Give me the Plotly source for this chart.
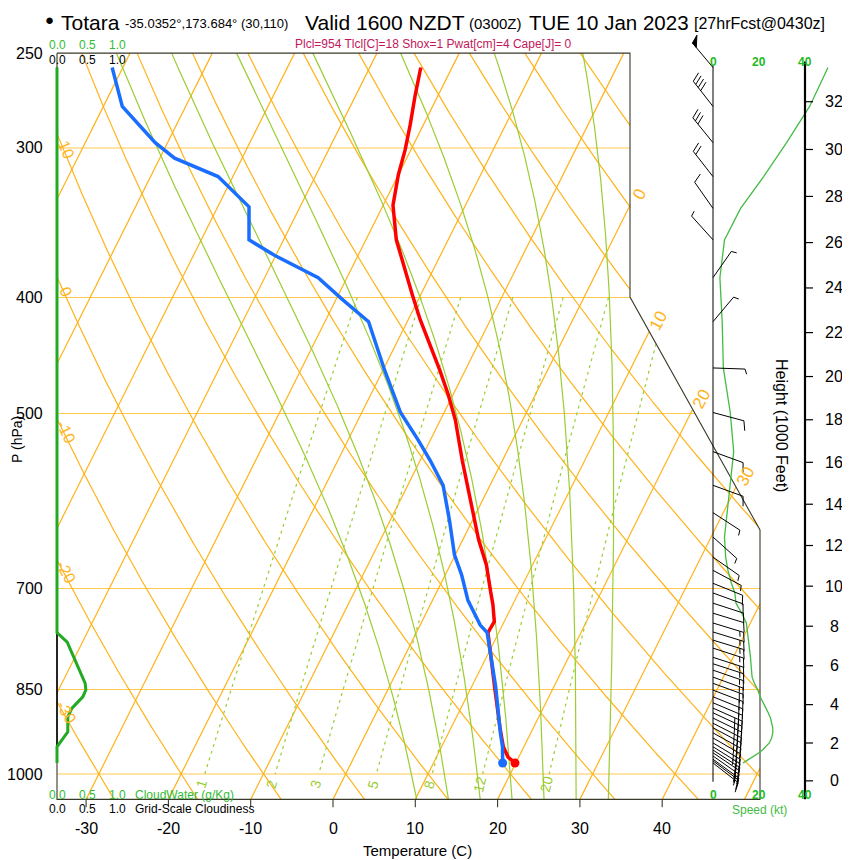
import numpy as np
import plotly.graph_objects as go

# ---------------- DATA ----------------
temp_p = [979, 968, 949, 914, 850, 788, 762, 746, 722, 702, 669, 637, 590, 547, 506, 482,
          460, 438, 417, 398, 375, 358, 335, 316, 301, 287, 271, 257]
temp_c = [19.9, 18.7, 17.5, 15.9, 13.0, 10.0, 8.7, 8.8, 7.6, 6.4, 4.4, 1.9, -1.5, -4.9, -8.2, -10.6,
          -13.1, -15.8, -18.6, -21.0, -24.0, -26.3, -28.8, -30.0, -30.7, -31.6, -32.8, -33.8]
dewp_p = [979, 949, 924, 845, 788, 762, 751, 737, 716, 682, 656, 614, 574, 547, 526, 499,
          460, 419, 402, 385, 369, 358, 336, 317, 306, 297, 277, 257]
dewp_c = [18.4, 17.4, 16.3, 12.9, 10.0, 8.6, 7.3, 6.1, 4.3, 2.0, -0.1, -2.8, -5.7, -8.8, -11.5, -15.3,
          -19.8, -24.7, -29.1, -33.5, -40.1, -44.2, -46.2, -51.8, -58.2, -61.5, -67.7, -71.3]

wind_p = [257, 277, 297, 317, 337, 358, 385, 419, 458, 499, 538, 574, 605, 634, 659, 676, 693, 706,
          720, 734, 748, 761, 773, 785, 799, 809, 819, 830, 840, 851, 862, 872, 881, 889, 898, 907,
          915, 924, 933, 942, 949, 955, 960, 966, 972, 975, 979]
wind_kt = [50, 42, 32, 22, 12, 5, 3, 4, 4.5, 7.5, 9, 7.5, 6, 5, 5.5, 6.5, 8, 9.5,
           10, 12.5, 14.5, 15, 15.5, 16, 16.3, 16.5, 16.8, 17, 18, 19.5, 20.5, 22, 23, 24, 25, 25.5,
           26, 26, 25.5, 24.5, 23, 21.5, 20, 18, 16, 14.5, 13]
wind_dir = [320, 322, 321, 322, 325, 318, 35, 40, 92, 105, 110, 110, 123, 132, 125, 118, 112, 110,
            108, 107, 107, 107, 107, 108, 108, 108, 109, 110, 110, 111, 112, 113, 114, 115, 116, 117,
            118, 119, 120, 121, 122, 123, 124, 125, 126, 127, 128]

cloud_p = [257, 762, 776, 792, 814, 840, 851, 862, 881, 896, 922, 940, 949, 979]
cloud_water = [0, 0, 0.17, 0.25, 0.35, 0.47, 0.48, 0.43, 0.25, 0.18, 0.18, 0.05, 0, 0]
cloud_frac = [0, 0, 0, 0, 0, 0, 0, 0, 0, 0, 0, 0, 0, 0]

pressure_ticks = [250, 300, 400, 500, 700, 850, 1000]
temp_ticks = [-30, -20, -10, 0, 10, 20, 30, 40]
height_ticks_kft = [0, 2, 4, 6, 8, 10, 12, 14, 16, 18, 20, 22, 24, 26, 28, 30, 32]
speed_ticks = [0, 20, 40, 60]
cloud_ticks = [0.0, 0.5, 1.0]
isobar_vals = [300, 400, 500, 700, 850, 1000]
isotherm_vals = list(range(-80, 60, 10))
isotherm_label_vals = [0, 10, 20, 30]
dry_adiabat_vals = list(range(-30, 130, 10))
dry_label_vals = [-30, -20, -10, 0, 10]
moist_adiabat_vals = [8, 12, 16, 20, 24, 28, 32]
mixing_ratio_vals = [1, 2, 3, 5, 8, 12, 20]

# ---------------- GEOMETRY (window pixels) ----------------
W, H = 850, 860
OFF = 8.0                      # page body margin of the html page
PX0, PXS = 333.0, 8.23         # pixel of X=0, px per degC
Y1000, YS = 774.0, 520.0       # pixel of 1000 hPa, px per ln(p)
P_TOP, P_BOT = 250.0, 1050.0
SKEW = 0.5 * YS / PXS
KT0, KTS = 713.0, 2.3          # wind panel: px of 0 kt, px per kt
CW0, CWS = 57.0, 60.0          # cloud water axis
LEFT, R1, R2, DY0, DY1 = 57.0, 630.0, 760.0, 297.0, 530.0

FONT = "Liberation Sans, Arial, Helvetica, sans-serif"
ORANGE = "#FFB31A"
ORANGE_H = "#FFC850"
YGREEN = "#9ACD32"


def Xof(T, p):
    return np.asarray(T, float) + SKEW * np.log(P_BOT / np.asarray(p, float))


def px_of(X):
    return PX0 + PXS * X


def py_of(p):
    return Y1000 + YS * np.log(np.asarray(p, float) / 1000.0)


def X_of_px(px):
    return (px - PX0) / PXS


def p_of_py(py):
    return 1000.0 * np.exp((py - Y1000) / YS)


def right_edge(py):
    if py <= DY0:
        return R1
    if py >= DY1:
        return R2
    return R1 + (R2 - R1) * (py - DY0) / (DY1 - DY0)


def inside(px, py):
    if px < LEFT - 0.01 or py < py_of(P_TOP) - 0.01 or py > py_of(P_BOT) + 0.01:
        return False
    return px <= right_edge(py) + 0.01


def clip(Xs, ps):
    Xs = np.asarray(Xs, float)
    ps = np.asarray(ps, float)
    ins = [inside(px_of(a), py_of(b)) for a, b in zip(Xs, ps)]
    oX, oP = [], []
    for i in range(len(Xs)):
        if i > 0 and ins[i] != ins[i - 1]:
            a, b = 0.0, 1.0
            l0, l1 = np.log(ps[i - 1]), np.log(ps[i])
            for _ in range(40):
                m = 0.5 * (a + b)
                Xm = Xs[i - 1] + (Xs[i] - Xs[i - 1]) * m
                pm = np.exp(l0 + (l1 - l0) * m)
                if inside(px_of(Xm), py_of(pm)) == ins[i - 1]:
                    a = m
                else:
                    b = m
            m = 0.5 * (a + b)
            Xc = Xs[i - 1] + (Xs[i] - Xs[i - 1]) * m
            pc = np.exp(l0 + (l1 - l0) * m)
            oX.append(float(Xc)); oP.append(float(pc))
            if ins[i - 1]:
                oX.append(None); oP.append(None)
        if ins[i]:
            oX.append(float(Xs[i])); oP.append(float(ps[i]))
    return oX, oP


def tdry(theta_c, p):
    return (theta_c + 273.15) * (np.asarray(p, float) / 1000.0) ** 0.2857 - 273.15


def td_from_w(w, p):
    es = w * np.asarray(p, float) / (622.0 + w)
    l = np.log(es / 6.112)
    return 243.5 * l / (17.67 - l)


def dTdp(T, p):
    Tc = T - 273.15
    es = 6.112 * np.exp(17.67 * Tc / (Tc + 243.5))
    rs = 0.622 * es / (p - es)
    num = 287.04 * T + 2.501e6 * rs
    den = 1005.7 + (2.501e6 ** 2 * rs * 0.622) / (287.04 * T * T)
    return num / den / p


def integrate(T0, grid):
    T = T0
    out = [T]
    for i in range(len(grid) - 1):
        p = grid[i]
        h = grid[i + 1] - p
        k1 = dTdp(T, p)
        k2 = dTdp(T + h * k1 / 2, p + h / 2)
        k3 = dTdp(T + h * k2 / 2, p + h / 2)
        k4 = dTdp(T + h * k3, p + h)
        T = T + h * (k1 + 2 * k2 + 2 * k3 + k4) / 6
        out.append(T)
    return np.array(out)


fig = go.Figure()


def add_line(x, y, color, width, dash=None, xaxis="x", fill=None, fillcolor=None):
    fig.add_trace(go.Scatter(x=x, y=y, mode="lines", xaxis=xaxis, yaxis="y",
                             line=dict(color=color, width=width, dash=dash),
                             fill=fill, fillcolor=fillcolor,
                             hoverinfo="skip", showlegend=False))


annotations = []


def ann(text, x, y, size=12, color="black", xref="paper", yref="paper", xanchor="center",
        yanchor="middle", angle=0, bold=False):
    if xref == "paper":
        x = (x - OFF) / W
    if yref == "paper":
        y = 1 - (y - OFF) / H
    if bold:
        text = "<b>" + text + "</b>"
    annotations.append(dict(text=text, x=x, y=y, xref=xref, yref=yref, showarrow=False,
                            xanchor=xanchor, yanchor=yanchor, textangle=angle,
                            font=dict(family=FONT, size=size, color=color)))


def seg_angle(X1, p1, X2, p2):
    dx = px_of(X2) - px_of(X1)
    dy = py_of(p2) - py_of(p1)
    return float(np.degrees(np.arctan2(dy, dx)))


pgrid = np.geomspace(P_TOP, P_BOT, 400)

# ---- isobars ----
for pv in isobar_vals:
    Xs = np.linspace(X_of_px(LEFT - 5), X_of_px(R2 + 5), 300)
    cx, cp = clip(Xs, np.full_like(Xs, pv))
    add_line(cx, cp, ORANGE_H, 1.1)

# ---- isotherms ----
for T in isotherm_vals:
    cx, cp = clip(Xof(T, pgrid), pgrid)
    add_line(cx, cp, ORANGE, 1.2)

# ---- dry adiabats ----
for th in dry_adiabat_vals:
    cx, cp = clip(Xof(tdry(th, pgrid), pgrid), pgrid)
    add_line(cx, cp, ORANGE, 1.2)

# ---- moist adiabats ----
for tw in moist_adiabat_vals:
    up = np.geomspace(1000.0, P_TOP, 300)
    dn = np.geomspace(1000.0, P_BOT, 20)
    Tu = integrate(tw + 273.15, up)
    Td_ = integrate(tw + 273.15, dn)
    pp = np.concatenate([dn[::-1], up[1:]])
    TT = np.concatenate([Td_[::-1], Tu[1:]]) - 273.15
    cx, cp = clip(Xof(TT, pp), pp)
    add_line(cx, cp, YGREEN, 1.2)

# ---- mixing ratio lines ----
pm = np.geomspace(400.0, 1000.0, 120)
for w in mixing_ratio_vals:
    cx, cp = clip(Xof(td_from_w(w, pm), pm), pm)
    add_line(cx, cp, YGREEN, 1.2, dash="3px,4px")
    pl = 1020.0
    xl = float(Xof(td_from_w(w, pl), pl))
    a = seg_angle(float(Xof(td_from_w(w, 1040.0), 1040.0)), 1040.0,
                  float(Xof(td_from_w(w, 990.0), 990.0)), 990.0)
    ann(str(w), xl, float(np.log10(pl)), size=14, color=YGREEN, xref="x", yref="y", angle=a)

# ---- frame ----
XL, XR1, XR2 = X_of_px(LEFT), X_of_px(R1), X_of_px(R2)
pD0, pD1 = float(p_of_py(DY0)), float(p_of_py(DY1))
add_line([XL, XR1, XR1, XR2, XR2, XL, XL],
         [P_TOP, P_TOP, pD0, pD1, P_BOT, P_BOT, P_TOP], "#3a3a2a", 1.1)

# bottom temperature ticks
tx, ty = [], []
for t in temp_ticks:
    tx += [t, t, None]
    ty += [P_BOT, P_BOT * np.exp(8 / YS), None]
    ann(str(t), t, 828, size=16, xref="x")
add_line(tx, ty, "#3a3a2a", 1.1)

# ---- cloud water / cloudiness (left) ----
add_line(cloud_frac, cloud_p, "black", 1.5, xaxis="x3")
add_line(cloud_water, cloud_p, "#22AA22", 3, xaxis="x3")

# ---- temperature and dewpoint ----
add_line(Xof(temp_c, temp_p), temp_p, "#FF0000", 3.5)
add_line(Xof(dewp_c, dewp_p), dewp_p, "#1A6EFF", 3.5)
fig.add_trace(go.Scatter(x=[float(Xof(temp_c[0], temp_p[0]))], y=[temp_p[0]], mode="markers",
                         marker=dict(color="#FF0000", size=9), hoverinfo="skip", showlegend=False))
fig.add_trace(go.Scatter(x=[float(Xof(dewp_c[0], dewp_p[0]))], y=[dewp_p[0]], mode="markers",
                         marker=dict(color="#1A6EFF", size=9), hoverinfo="skip", showlegend=False))

# ---- wind panel ----
add_line([0, 0], [min(wind_p) - 1, 1015], "black", 1, xaxis="x2")
add_line(wind_kt, wind_p, "#44BB44", 1.3, xaxis="x2")

bx, by = [], []
flags = []
for p0, spd, d in zip(wind_p, wind_kt, wind_dir):
    L, FL, HL, SP = 32.0, 10.0, 5.5, 4.0
    s = int(5 * round(spd / 5.0))
    th = np.radians(d)
    u = np.array([np.sin(th), -np.cos(th)])
    r = np.array([-u[1], u[0]])
    ang = np.radians(70)
    b = np.cos(ang) * u + np.sin(ang) * r

    def conv(v, p0=p0):
        return v[0] / KTS, p0 * np.exp(v[1] / YS)

    segs = [(np.zeros(2), L * u)]
    pos = 0.0
    n50 = s // 50
    rem = s - 50 * n50
    n10 = rem // 10
    n5 = (rem - 10 * n10) // 5
    for _ in range(n50):
        a_ = (L - pos) * u
        c_ = (L - pos - 6) * u
        flags.append([conv(a_), conv(a_ + 9 * b), conv(c_), conv(a_)])
        pos += 8
    for _ in range(n10):
        a_ = (L - pos) * u
        segs.append((a_, a_ + FL * b))
        pos += SP
    for _ in range(n5):
        a_ = (L - pos) * u
        segs.append((a_, a_ + HL * b))
        pos += SP
    for s0, s1 in segs:
        x0, y0 = conv(s0)
        x1, y1 = conv(s1)
        bx += [x0, x1, None]
        by += [y0, y1, None]
add_line(bx, by, "black", 1, xaxis="x2")
for f in flags:
    add_line([q[0] for q in f], [q[1] for q in f], "black", 1, xaxis="x2",
             fill="toself", fillcolor="black")

# ---- height axis ----
HX = (805 - KT0) / KTS
add_line([HX, HX], [254, P_BOT], "black", 2.2, xaxis="x2")
hx, hy = [], []
for h in height_ticks_kft:
    ph = 1013.25 * (1 - 2.25577e-5 * h * 304.8) ** 5.25588
    hx += [HX, HX + 8 / KTS, None]
    hy += [ph, ph, None]
    ann(str(h), (834 - KT0) / KTS, float(np.log10(ph)), size=16, xref="x2", yref="y")
add_line(hx, hy, "black", 1.2, xaxis="x2")

# ---- labels on lines ----
for T in isotherm_label_vals:
    ps_ = np.geomspace(P_TOP, P_BOT, 2000)
    xs_ = Xof(T, ps_)
    ins = [inside(px_of(a), py_of(b)) for a, b in zip(xs_, ps_)]
    k = ins.index(True)
    pyl = float(py_of(ps_[k])) - 11
    pl = float(p_of_py(pyl))
    xl = float(Xof(T, pl)) + 4 / PXS
    ann(str(T), xl, float(np.log10(pl)), size=17, color=ORANGE, xref="x", yref="y", angle=-62)

for th in dry_label_vals:
    lo, hi = P_TOP, P_BOT
    for _ in range(60):
        mid = 0.5 * (lo + hi)
        if px_of(Xof(tdry(th, mid), mid)) < LEFT + 9:
            lo = mid
        else:
            hi = mid
    pl = 0.5 * (lo + hi)
    a = seg_angle(float(Xof(tdry(th, pl * 0.97), pl * 0.97)), pl * 0.97,
                  float(Xof(tdry(th, pl * 1.03), pl * 1.03)), pl * 1.03)
    pl_lab = pl * np.exp(-6 / YS)
    ann(str(th), float(Xof(tdry(th, pl), pl)), float(np.log10(pl_lab)), size=16, color=ORANGE,
        xref="x", yref="y", angle=a)

# ---- axis labels ----
for pv in pressure_ticks:
    ann(str(pv), 45, float(np.log10(pv)), size=16, xanchor="right", yref="y")
ann("P (hPa)", 17, 440, size=14, angle=-90)
ann("Temperature (C)", 417, 850, size=15)
ann("Height (1000 Feet)", 782, 425, size=16, angle=90)

for v in cloud_ticks:
    xv = v * CWS
    ann("%.1f" % v, CW0 + xv, 45, size=12, color="#33BB33")
    ann("%.1f" % v, CW0 + xv, 60, size=12, color="black")
    ann("%.1f" % v, CW0 + xv, 795, size=12, color="#33BB33")
    ann("%.1f" % v, CW0 + xv, 809, size=12, color="black")
ann("CloudWater (g/Kg)", 133, 795, size=12, color="#33BB33", xanchor="left")
ann("Grid-Scale Cloudiness", 133, 809, size=12, color="black", xanchor="left")

for s in speed_ticks:
    ann(str(s), s, 62, size=12, color="#22BB22", xref="x2", bold=True)
    ann(str(s), s, 795, size=12, color="#22BB22", xref="x2", bold=True)
ann("Speed (kt)", 20, 810, size=12, color="#44BB44", xref="x2")

# ---- titles ----
ann("\u25CF", 49, 20, size=15, xanchor="center")
ann("Totara", 59, 22, size=21, xanchor="left")
ann("-35.0352\u00b0,173.684\u00b0 (30,110)", 123, 23, size=13, xanchor="left")
ann("Valid 1600 NZDT", 303, 22, size=21, xanchor="left")
ann("(0300Z)", 467, 23, size=15, xanchor="left")
ann("TUE 10 Jan 2023", 527, 22, size=20.5, xanchor="left")
ann("[27hrFcst@0430z]", 692, 23, size=16, xanchor="left")
ann("Plcl=954 Tlcl[C]=18 Shox=1 Pwat[cm]=4 Cape[J]= 0", 433, 44, size=12, color="#C2185B")

fig.update_layout(
    width=W, height=H, autosize=False,
    margin=dict(l=0, r=0, t=0, b=0, pad=0),
    paper_bgcolor="white", plot_bgcolor="white",
    showlegend=False,
    xaxis=dict(range=[X_of_px(OFF), X_of_px(W + OFF)], domain=[0, 1], visible=False,
               fixedrange=True),
    xaxis2=dict(range=[(OFF - KT0) / KTS, (W + OFF - KT0) / KTS], domain=[0, 1], overlaying="x",
                anchor="y", visible=False, fixedrange=True),
    xaxis3=dict(range=[(OFF - CW0) / CWS, (W + OFF - CW0) / CWS], domain=[0, 1], overlaying="x",
                anchor="y", visible=False, fixedrange=True),
    yaxis=dict(type="log",
               range=[float(np.log10(p_of_py(H + OFF))), float(np.log10(p_of_py(OFF)))],
               domain=[0, 1], visible=False, fixedrange=True),
    annotations=annotations,
)

fig.write_html("out.html", config={"displayModeBar": False})
